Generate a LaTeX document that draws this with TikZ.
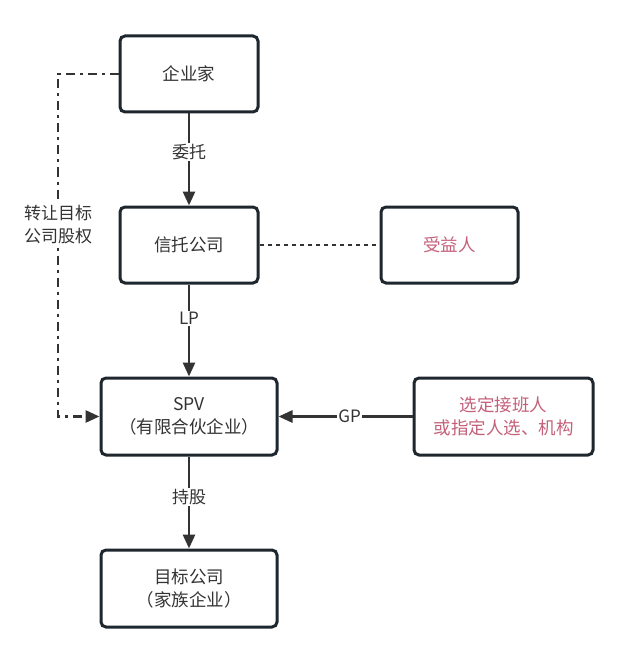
\documentclass[tikz,border=0pt]{standalone}
\usepackage{fontspec}
\setmainfont{Noto Sans CJK SC}
\usetikzlibrary{arrows.meta}
\definecolor{ln}{HTML}{333333}
\definecolor{bx}{HTML}{1E262E}
\definecolor{pk}{HTML}{C4607A}
\definecolor{tx}{HTML}{333333}
\begin{document}
\begin{tikzpicture}[x=1pt,y=-1pt,
  box/.style={draw=bx,line width=3pt,rounded corners=5pt,fill=white,text=tx,align=center,font=\fontsize{17.5}{23}\selectfont,inner sep=0pt},
  conn/.style={draw=ln,line width=2.8pt,-{Triangle[length=14pt,width=12pt]}},
  lab/.style={fill=white,text=tx,font=\fontsize{17}{23}\selectfont,inner sep=1.5pt,align=center}]
\useasboundingbox (0,0) rectangle (629,663);
\node[box,minimum width=138pt,minimum height=76pt] (ent) at (189,74) {企业家};
\node[box,minimum width=138pt,minimum height=76pt] (trust) at (189,245) {信托公司};
\node[box,minimum width=137pt,minimum height=76pt,text=pk] (ben) at (449.5,245) {受益人};
\node[box,minimum width=176pt,minimum height=77pt] (spv) at (189,416.5) {SPV\\（有限合伙企业）};
\node[box,minimum width=179pt,minimum height=77pt,text=pk] (sel) at (503.5,416.5) {选定接班人\\或指定人选、机构};
\node[box,minimum width=176pt,minimum height=77pt] (tgt) at (189,588.5) {目标公司\\（家族企业）};
\draw[conn] (ent) -- node[lab,pos=0.42] {委托} (trust);
\draw[conn] (trust) -- node[lab,pos=0.37] {LP} (spv);
\draw[conn] (spv) -- node[lab,pos=0.44] {持股} (tgt);
\draw[conn] (sel) -- node[lab,pos=0.47] {GP} (spv);
\draw[draw=ln,line width=2.8pt,dash pattern=on 4pt off 4pt] (trust) -- (ben);
\coordinate (c1) at (58,74);
\coordinate (c2) at (58,416.5);
\draw[draw=ln,line width=2.8pt,dash pattern=on 9pt off 5pt on 3pt off 5pt,-{Triangle[length=14pt,width=12pt]}]
  (ent.west) -- (c1) -- node[lab,pos=0.44] {转让目标\\公司股权} (c2) -- (spv.west);
\end{tikzpicture}
\end{document}
